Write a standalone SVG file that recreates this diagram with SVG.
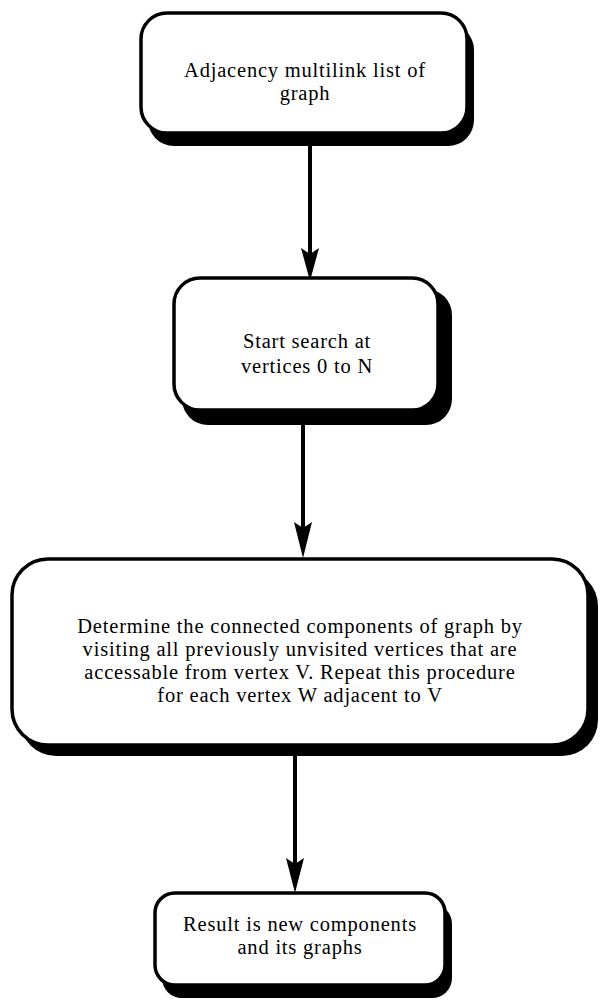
<svg xmlns="http://www.w3.org/2000/svg" width="600" height="1000" viewBox="0 0 600 1000">
<style>
.sh{fill:#000}
.bx{fill:#fff;stroke:#000;stroke-width:3.5}
.t{font-family:"Liberation Serif","DejaVu Serif",serif;font-size:20.5px;fill:#000;text-anchor:middle;letter-spacing:0.8px}
.c{stroke:#000;stroke-width:4;fill:none}
.ah{fill:#000}
</style>
<g id="connectors">
<line class="c" x1="310" y1="146" x2="310" y2="258"/>
<path class="ah" d="M301,248 L310,281 L319,248 L310,254 Z"/>
<line class="c" x1="303" y1="424" x2="303" y2="532"/>
<path class="ah" d="M294,522 L303,558 L312,522 L303,528 Z"/>
<line class="c" x1="295" y1="756" x2="295" y2="868"/>
<path class="ah" d="M286,858 L295,893 L304,858 L295,864 Z"/>
</g>
<g id="n1">
<rect class="sh" x="148" y="24" width="326" height="122" rx="26"/>
<rect class="bx" x="141" y="13" width="326" height="120" rx="26"/>
<text class="t" x="305" y="77">Adjacency multilink list of</text>
<text class="t" x="305" y="100">graph</text>
</g>
<g id="n2">
<rect class="sh" x="182" y="289" width="270" height="136" rx="26"/>
<rect class="bx" x="174" y="278" width="264" height="132" rx="26"/>
<text class="t" x="307" y="348">Start search at</text>
<text class="t" x="307" y="373">vertices 0 to N</text>
</g>
<g id="n3">
<rect class="sh" x="20" y="570" width="578" height="186" rx="36"/>
<rect class="bx" x="12" y="559" width="576" height="186" rx="36"/>
<text class="t" x="300" y="633">Determine the connected components of graph by</text>
<text class="t" x="300" y="656">visiting all previously unvisited vertices that are</text>
<text class="t" x="300" y="679">accessable from vertex V. Repeat this procedure</text>
<text class="t" x="300" y="702">for each vertex W adjacent to V</text>
</g>
<g id="n4">
<rect class="sh" x="162" y="904" width="290" height="94" rx="20"/>
<rect class="bx" x="155" y="893" width="290" height="92" rx="20"/>
<text class="t" x="300" y="931">Result is new components</text>
<text class="t" x="300" y="954">and its graphs</text>
</g>
</svg>
